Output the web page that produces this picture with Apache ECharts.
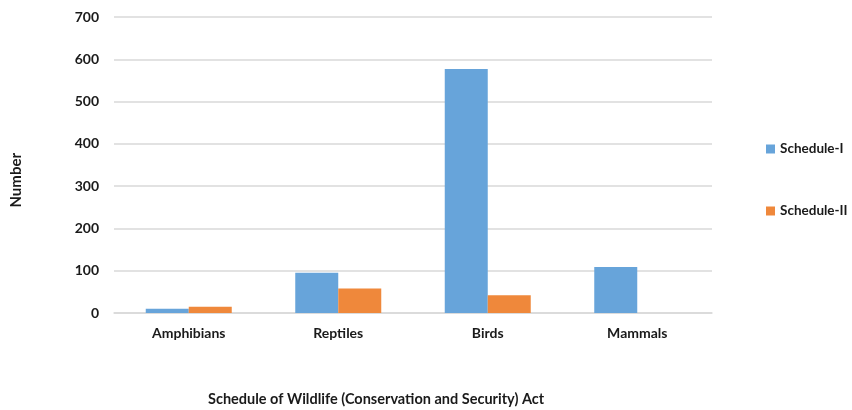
<!DOCTYPE html>
<html>
<head>
<meta charset="utf-8">
<script src="https://cdn.jsdelivr.net/npm/echarts@6/dist/echarts.min.js"></script>
<style>
  html, body { margin: 0; padding: 0; background: #fff; }
  #chart { width: 852px; height: 410px; }
</style>
</head>
<body>
<div id="chart"></div>
<script>
// data
var categories = ['Amphibians', 'Reptiles', 'Birds', 'Mammals'];
var scheduleOne = [10, 95, 577, 109];
var scheduleTwo = [15, 58, 42, 0];
var seriesNames = ['Schedule-I', 'Schedule-II'];
var yTitle = 'Number';
var xTitle = 'Schedule of Wildlife (Conservation and Security) Act';

var myChart = echarts.init(document.getElementById('chart'));
var font = 'Lato, "Open Sans", sans-serif';
var textColor = '#1a1a1a';

myChart.setOption({
    animation: false,
    textStyle: { fontFamily: font },
    grid: { left: 114, right: 140, top: 17, bottom: 97, containLabel: false, outerBoundsMode: 'none' },
    legend: {
        orient: 'vertical',
        left: 766,
        top: 142,
        padding: 0,
        itemGap: 48,
        itemWidth: 9,
        itemHeight: 9,
        icon: 'rect',
        textStyle: { fontFamily: font, fontWeight: 'bold', fontSize: 13.5, color: textColor, overflow: 'none' },
        data: seriesNames
    },
    graphic: [
        {
            type: 'text',
            left: 9,
            top: 153,
            rotation: Math.PI / 2,
            style: { text: yTitle, font: 'bold 15px ' + font, fill: textColor }
        },
        {
            type: 'text',
            left: 208,
            top: 392,
            style: { text: xTitle, font: 'bold 14.5px ' + font, fill: textColor }
        }
    ],
    xAxis: {
        type: 'category',
        data: categories,
        axisLine: { lineStyle: { color: '#d9d9d9', width: 1.5 } },
        axisTick: { show: false },
        axisLabel: { fontFamily: font, fontWeight: 'bold', fontSize: 14, color: textColor, margin: 13 }
    },
    yAxis: {
        type: 'value',
        min: 0,
        max: 700,
        interval: 100,
        axisLine: { show: false },
        axisTick: { show: false },
        splitLine: { lineStyle: { color: '#d9d9d9', width: 1.5 } },
        axisLabel: { fontFamily: font, fontWeight: 'bold', fontSize: 14, color: textColor, margin: 15 }
    },
    series: [
        {
            name: seriesNames[0],
            type: 'bar',
            data: scheduleOne,
            barWidth: 43,
            barGap: '0%',
            itemStyle: { color: '#67a4da' }
        },
        {
            name: seriesNames[1],
            type: 'bar',
            data: scheduleTwo,
            barWidth: 43,
            barGap: '0%',
            itemStyle: { color: '#ef883b' }
        }
    ]
});
</script>
</body>
</html>
